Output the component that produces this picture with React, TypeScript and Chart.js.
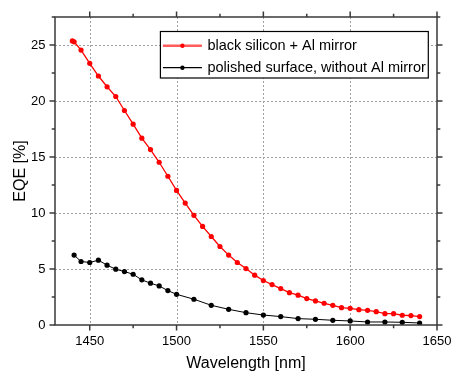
import { useEffect, useRef } from "react";
import { Chart, registerables } from "chart.js";

Chart.register(...registerables);

const seriesLabels = ["black silicon + Al mirror", "polished surface, without Al mirror"];

const redWavelengths = [
  1440, 1441, 1445, 1450, 1455, 1460, 1465, 1470, 1475, 1480, 1485, 1490, 1495, 1500,
  1505, 1510, 1515, 1520, 1525, 1530, 1535, 1540, 1545, 1550, 1555, 1560, 1565, 1570,
  1575, 1580, 1585, 1590, 1595, 1600, 1605, 1610, 1615, 1620, 1625, 1630, 1635, 1640,
];
const redEQE = [
  25.36, 25.28, 24.55, 23.36, 22.23, 21.27, 20.4, 19.15, 17.93, 16.68, 15.66, 14.53, 13.28, 12.02,
  10.89, 9.79, 8.8, 7.9, 7.01, 6.24, 5.58, 5.04, 4.45, 3.97, 3.61, 3.25, 2.89, 2.66,
  2.36, 2.15, 1.94, 1.76, 1.55, 1.49, 1.37, 1.31, 1.19, 1.01, 1.01, 0.87, 0.84, 0.75,
];

const blackWavelengths = [
  1441, 1445, 1450, 1455, 1460, 1465, 1470, 1475, 1480, 1485, 1490, 1495, 1500,
  1510, 1520, 1530, 1540, 1550, 1560, 1570, 1580, 1590, 1600, 1610, 1620, 1630, 1640,
];
const blackEQE = [
  6.24, 5.67, 5.58, 5.79, 5.34, 4.98, 4.77, 4.53, 4.03, 3.73, 3.49, 3.07, 2.74,
  2.3, 1.76, 1.4, 1.1, 0.89, 0.75, 0.57, 0.51, 0.42, 0.36, 0.27, 0.27, 0.24, 0.18,
];

const xTicks = [1450, 1500, 1550, 1600, 1650];
const yTicks = [0, 5, 10, 15, 20, 25];

const FONT = "'Liberation Sans', Arial, Helvetica, sans-serif";

function minorOf(major: number[], min: number, max: number) {
  const step = major[1] - major[0];
  const out: number[] = [];
  for (let v = major[0] - step / 2; v <= max + 1e-9; v += step) {
    if (v >= min - 1e-9) out.push(v);
  }
  return out;
}

const framePlugin = {
  id: "frameTicksLegend",
  beforeDatasetsDraw(chart: any) {
    const { ctx, chartArea: a, scales } = chart;
    const x = scales.x;
    const y = scales.y;
    ctx.save();
    ctx.strokeStyle = "#a0a0a0";
    ctx.lineWidth = 1;
    ctx.setLineDash([2, 2]);
    for (const v of xTicks) {
      const px = Math.round(x.getPixelForValue(v)) + 0.5;
      if (px > a.left + 2 && px < a.right - 2) {
        ctx.beginPath();
        ctx.moveTo(px, a.top);
        ctx.lineTo(px, a.bottom);
        ctx.stroke();
      }
    }
    for (const v of yTicks) {
      const py = Math.round(y.getPixelForValue(v)) + 0.5;
      if (py > a.top + 2 && py < a.bottom - 2) {
        ctx.beginPath();
        ctx.moveTo(a.left, py);
        ctx.lineTo(a.right, py);
        ctx.stroke();
      }
    }
    ctx.restore();
  },
  afterDatasetsDraw(chart: any) {
    const { ctx, chartArea: a, scales } = chart;
    const x = scales.x;
    const y = scales.y;
    ctx.save();
    ctx.strokeStyle = "#3a3a3a";
    ctx.lineWidth = 1.5;
    ctx.setLineDash([]);
    ctx.strokeRect(a.left, a.top, a.right - a.left, a.bottom - a.top);

    const major = 5.5;
    const minor = 3.3;
    const xm = minorOf(xTicks, x.min, x.max);
    const ym = minorOf(yTicks, y.min, y.max);
    ctx.beginPath();
    const xt = (v: number, len: number) => {
      const px = x.getPixelForValue(v);
      ctx.moveTo(px, a.bottom);
      ctx.lineTo(px, a.bottom + len);
      ctx.moveTo(px, a.top);
      ctx.lineTo(px, a.top - len);
    };
    const yt = (v: number, len: number) => {
      const py = y.getPixelForValue(v);
      ctx.moveTo(a.left, py);
      ctx.lineTo(a.left - len, py);
      ctx.moveTo(a.right, py);
      ctx.lineTo(a.right + len, py);
    };
    xTicks.forEach((v) => xt(v, major));
    xm.forEach((v) => xt(v, minor));
    yTicks.forEach((v) => yt(v, major));
    ym.forEach((v) => yt(v, minor));
    ctx.stroke();

    // legend
    const fontSize = 14.5;
    ctx.font = `${fontSize}px ${FONT}`;
    const datasets = chart.data.datasets;
    const textW = Math.max(...datasets.map((d: any) => ctx.measureText(d.label).width));
    const padL = 2.5, lineLen = 39, gap = 5.5, padR = 2.5;
    const boxW = padL + lineLen + gap + textW + padR;
    const boxH = 46.5;
    const right = a.right - 8.7;
    const left = right - boxW;
    const top = a.top + 14.5;
    ctx.fillStyle = "#ffffff";
    ctx.fillRect(left, top, boxW, boxH);
    ctx.strokeStyle = "#000000";
    ctx.lineWidth = 1.2;
    ctx.strokeRect(left, top, boxW, boxH);
    const rows = [top + 14.2, top + 36.2];
    const legendLine = [
      { color: "#ff5c5c", width: 2.6 },
      { color: "#000000", width: 1.2 },
    ];
    datasets.forEach((d: any, i: number) => {
      const cy = rows[i];
      ctx.strokeStyle = legendLine[i].color;
      ctx.lineWidth = legendLine[i].width;
      ctx.beginPath();
      ctx.moveTo(left + padL, cy);
      ctx.lineTo(left + padL + lineLen, cy);
      ctx.stroke();
      ctx.fillStyle = d.pointBackgroundColor;
      ctx.beginPath();
      ctx.arc(left + padL + lineLen / 2, cy, 2.2, 0, Math.PI * 2);
      ctx.fill();
      ctx.fillStyle = "#000000";
      ctx.textAlign = "left";
      ctx.textBaseline = "middle";
      ctx.fillText(d.label, left + padL + lineLen + gap, cy + 0.5);
    });
    ctx.restore();
  },
};

export default function App() {
  const ref = useRef<HTMLCanvasElement | null>(null);

  useEffect(() => {
    document.body.style.margin = "0";
    if (!ref.current) return;
    const chart = new Chart(ref.current, {
      type: "line",
      data: {
        datasets: [
          {
            label: seriesLabels[0],
            data: redWavelengths.map((w, i) => ({ x: w, y: redEQE[i] })),
            borderColor: "#ff0000",
            backgroundColor: "#ff0000",
            pointBackgroundColor: "#ff0000",
            pointBorderColor: "#ff0000",
            borderWidth: 1.3,
            pointRadius: 2.6,
            pointBorderWidth: 0,
            tension: 0,
          },
          {
            label: seriesLabels[1],
            data: blackWavelengths.map((w, i) => ({ x: w, y: blackEQE[i] })),
            borderColor: "#000000",
            backgroundColor: "#000000",
            pointBackgroundColor: "#000000",
            pointBorderColor: "#000000",
            borderWidth: 1,
            pointRadius: 2.6,
            pointBorderWidth: 0,
            tension: 0,
          },
        ],
      } as any,
      options: {
        animation: false,
        responsive: false,
        devicePixelRatio: 1,
        layout: { padding: { top: 17, right: 14, left: 0, bottom: 0 } },
        plugins: {
          legend: { display: false },
          tooltip: { enabled: false },
        },
        font: { family: FONT } as any,
        scales: {
          x: {
            type: "linear",
            min: 1430,
            max: 1650,
            afterBuildTicks: (s: any) => {
              s.ticks = xTicks.map((v) => ({ value: v }));
            },
            afterFit: (s: any) => {
              s.height = 47;
              s.paddingLeft = 0;
              s.paddingRight = 0;
            },
            grid: { display: false, drawTicks: false },
            border: { display: false },
            ticks: {
              padding: 9,
              color: "#000000",
              font: { family: FONT, size: 13 },
              maxRotation: 0,
              autoSkip: false,
              callback: (v: any) => String(v),
            },
            title: {
              display: true,
              text: "Wavelength [nm]",
              color: "#000000",
              font: { family: FONT, size: 16, lineHeight: 1 },
              padding: { top: 0, bottom: 0 },
            },
          },
          y: {
            type: "linear",
            min: 0,
            max: 27.5,
            afterBuildTicks: (s: any) => {
              s.ticks = yTicks.map((v) => ({ value: v }));
            },
            afterFit: (s: any) => {
              s.width = 55;
              s.paddingTop = 0;
              s.paddingBottom = 0;
            },
            grid: { display: false, drawTicks: false },
            border: { display: false },
            ticks: {
              padding: 9.5,
              color: "#000000",
              font: { family: FONT, size: 13 },
              autoSkip: false,
              callback: (v: any) => String(v),
            },
            title: {
              display: true,
              text: "EQE [%]",
              color: "#000000",
              font: { family: FONT, size: 16, lineHeight: 1 },
              padding: { top: 13, bottom: 0 },
            },
          },
        },
      } as any,
      plugins: [framePlugin],
    });
    return () => chart.destroy();
  }, []);

  return (
    <canvas
      ref={ref}
      width={451}
      height={372}
      style={{ display: "block", width: 451, height: 372 }}
    />
  );
}
